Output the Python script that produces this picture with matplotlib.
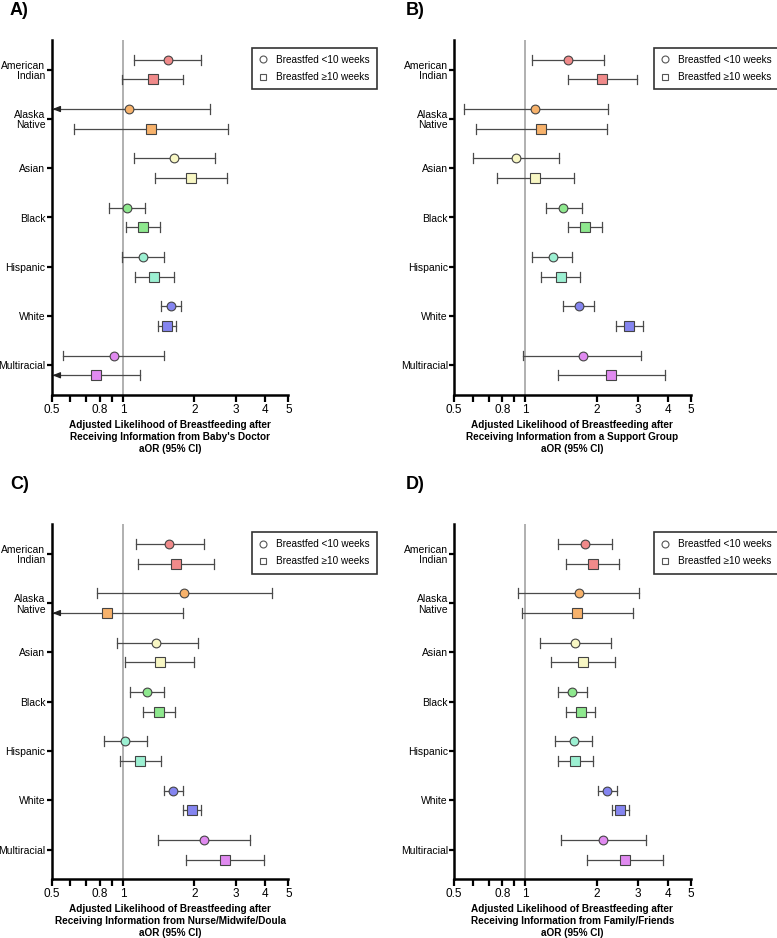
import numpy as np
import matplotlib
matplotlib.use("Agg")
import matplotlib.pyplot as plt

plt.rcParams['font.family'] = ['Liberation Sans', 'DejaVu Sans']

# --- data ---
groups = ["American\nIndian", "Alaska\nNative", "Asian", "Black", "Hispanic", "White", "Multiracial"]
colors = ["#f08a8a", "#f7b26b", "#f8f7c4", "#8ee88e", "#9cf0d2", "#8585f0", "#e08af0"]

# lower CI values below 0.5 are cut at the axis (drawn with an arrow)
doctor_lt10 = [1.55, 1.06, 1.64, 1.04, 1.22, 1.60, 0.92]
doctor_lt10_lo = [1.11, 0.45, 1.11, 0.87, 0.99, 1.45, 0.56]
doctor_lt10_hi = [2.14, 2.34, 2.44, 1.24, 1.49, 1.76, 1.49]
doctor_ge10 = [1.34, 1.31, 1.93, 1.22, 1.35, 1.54, 0.77]
doctor_ge10_lo = [0.99, 0.62, 1.37, 1.03, 1.12, 1.40, 0.45]
doctor_ge10_hi = [1.80, 2.78, 2.76, 1.44, 1.64, 1.67, 1.18]

support_lt10 = [1.52, 1.10, 0.91, 1.44, 1.31, 1.68, 1.75]
support_lt10_lo = [1.07, 0.55, 0.60, 1.22, 1.07, 1.45, 0.98]
support_lt10_hi = [2.16, 2.23, 1.39, 1.73, 1.58, 1.95, 3.09]
support_ge10 = [2.11, 1.17, 1.10, 1.79, 1.42, 2.75, 2.30]
support_ge10_lo = [1.52, 0.62, 0.76, 1.52, 1.17, 2.41, 1.37]
support_ge10_hi = [2.96, 2.21, 1.61, 2.11, 1.70, 3.15, 3.89]

nurse_lt10 = [1.57, 1.81, 1.38, 1.26, 1.02, 1.63, 2.21]
nurse_lt10_lo = [1.13, 0.78, 0.94, 1.07, 0.83, 1.49, 1.41]
nurse_lt10_hi = [2.19, 4.25, 2.07, 1.49, 1.26, 1.80, 3.43]
nurse_ge10 = [1.68, 0.86, 1.43, 1.42, 1.18, 1.96, 2.71]
nurse_ge10_lo = [1.16, 0.45, 1.02, 1.21, 0.97, 1.80, 1.85]
nurse_ge10_hi = [2.43, 1.80, 2.00, 1.66, 1.45, 2.14, 3.94]

family_lt10 = [1.79, 1.68, 1.63, 1.58, 1.60, 2.21, 2.13]
family_lt10_lo = [1.37, 0.93, 1.15, 1.37, 1.33, 2.02, 1.42]
family_lt10_hi = [2.33, 3.03, 2.30, 1.82, 1.91, 2.43, 3.24]
family_ge10 = [1.93, 1.66, 1.75, 1.72, 1.63, 2.52, 2.63]
family_ge10_lo = [1.49, 0.97, 1.29, 1.49, 1.37, 2.32, 1.82]
family_ge10_hi = [2.49, 2.86, 2.40, 1.97, 1.93, 2.74, 3.81]

panels = [
    ("A)", "Adjusted Likelihood of Breastfeeding after\nReceiving Information from Baby's Doctor\naOR (95% CI)",
     (doctor_lt10, doctor_lt10_lo, doctor_lt10_hi), (doctor_ge10, doctor_ge10_lo, doctor_ge10_hi)),
    ("B)", "Adjusted Likelihood of Breastfeeding after\nReceiving Information from a Support Group\naOR (95% CI)",
     (support_lt10, support_lt10_lo, support_lt10_hi), (support_ge10, support_ge10_lo, support_ge10_hi)),
    ("C)", "Adjusted Likelihood of Breastfeeding after\nReceiving Information from Nurse/Midwife/Doula\naOR (95% CI)",
     (nurse_lt10, nurse_lt10_lo, nurse_lt10_hi), (nurse_ge10, nurse_ge10_lo, nurse_ge10_hi)),
    ("D)", "Adjusted Likelihood of Breastfeeding after\nReceiving Information from Family/Friends\naOR (95% CI)",
     (family_lt10, family_lt10_lo, family_lt10_hi), (family_ge10, family_ge10_lo, family_ge10_hi)),
]

XMIN, XMAX = 0.5, 5
W, H = 777, 938
fig = plt.figure(figsize=(W / 100, H / 100), dpi=100)

# axes boxes in pixels: left, top
boxes = [(51.7, 40), (454, 40), (51.7, 524.3), (454, 524.3)]
legend_pos = [(252, 48), (654, 48), (252, 532), (654, 532)]
label_pos = [(10, 2), (406, 2), (10, 476), (406, 476)]
ax_w, ax_h = 236.7, 355


def draw_series(ax, ypos, vals, marker):
    est, lo, hi = vals
    for i, (e, l, h) in enumerate(zip(est, lo, hi)):
        y = ypos[i]
        left = max(l, XMIN)
        ax.plot([left, h], [y, y], color="#4a4a4a", lw=0.9, zorder=2, clip_on=False)
        ax.plot([h, h], [y - 0.1, y + 0.1], color="#4a4a4a", lw=0.9, zorder=2)
        if l < XMIN:
            # truncated lower limit: arrow head at the axis
            ax.annotate("", xy=(XMIN * 1.008, y), xytext=(XMIN * 1.06, y),
                        arrowprops=dict(arrowstyle="-|>,head_length=0.45,head_width=0.18",
                                        color="#222222", lw=0.9, shrinkA=0, shrinkB=0),
                        zorder=3, annotation_clip=False)
        else:
            ax.plot([l, l], [y - 0.1, y + 0.1], color="#4a4a4a", lw=0.9, zorder=2)
        ax.plot(e, y, marker=marker, ms=6.3 if marker == "o" else 6.8, mfc=colors[i],
                mec="#444444", mew=0.8, zorder=4, linestyle="none")


for k, (tag, xlabel, lt10, ge10) in enumerate(panels):
    lx, ty = boxes[k]
    ax = fig.add_axes([lx / W, 1 - (ty + ax_h) / H, ax_w / W, ax_h / H])
    ax.set_xscale("log")
    ax.set_xlim(XMIN, XMAX)
    ypos = np.arange(len(groups))
    ax.set_ylim(len(groups) - 0.4, -0.6)

    ax.axvline(1, color="#b0b0b0", lw=1.4, zorder=1)
    draw_series(ax, ypos - 0.2, lt10, "o")
    draw_series(ax, ypos + 0.2, ge10, "s")

    ax.set_yticks(ypos)
    ax.set_yticklabels(groups, fontsize=7.5, ha="right", linespacing=1.05)
    ax.set_xticks([0.5, 0.8, 1, 2, 3, 4, 5])
    ax.set_xticklabels(["0.5", "0.8", "1", "2", "3", "4", "5"], fontsize=8.5)
    ax.set_xticks([0.6, 0.7, 0.9], minor=True)
    ax.xaxis.set_minor_formatter(matplotlib.ticker.NullFormatter())
    ax.tick_params(axis="x", which="both", direction="out", length=5, width=1.6, pad=1.5)
    ax.tick_params(axis="y", direction="out", length=3.5, width=1.6, pad=1)
    for s in ["top", "right"]:
        ax.spines[s].set_visible(False)
    for s in ["left", "bottom"]:
        ax.spines[s].set_linewidth(1.8)
    ax.set_xlabel(xlabel, fontsize=7.2, fontweight="bold", labelpad=3, linespacing=1.25)

    h1 = ax.plot([], [], marker="o", ms=5, mfc="white", mec="#555555", mew=0.8, linestyle="none")[0]
    h2 = ax.plot([], [], marker="s", ms=5, mfc="white", mec="#555555", mew=0.8, linestyle="none")[0]
    lgx, lgy = legend_pos[k]
    leg = ax.legend([h1, h2], ["Breastfed <10 weeks", "Breastfed \u226510 weeks"],
                    loc="upper left", bbox_to_anchor=(lgx / W, 1 - lgy / H),
                    bbox_transform=fig.transFigure, fontsize=7.2, frameon=True,
                    fancybox=False, handletextpad=0.9, borderpad=0.7, labelspacing=0.75,
                    handlelength=0.8, borderaxespad=0)
    leg.get_frame().set_edgecolor("black")
    leg.get_frame().set_linewidth(1.2)

    px, py = label_pos[k]
    fig.text(px / W, 1 - py / H, tag, fontsize=13, fontweight="bold", va="top", ha="left")

fig.savefig("out.png", dpi=100)
